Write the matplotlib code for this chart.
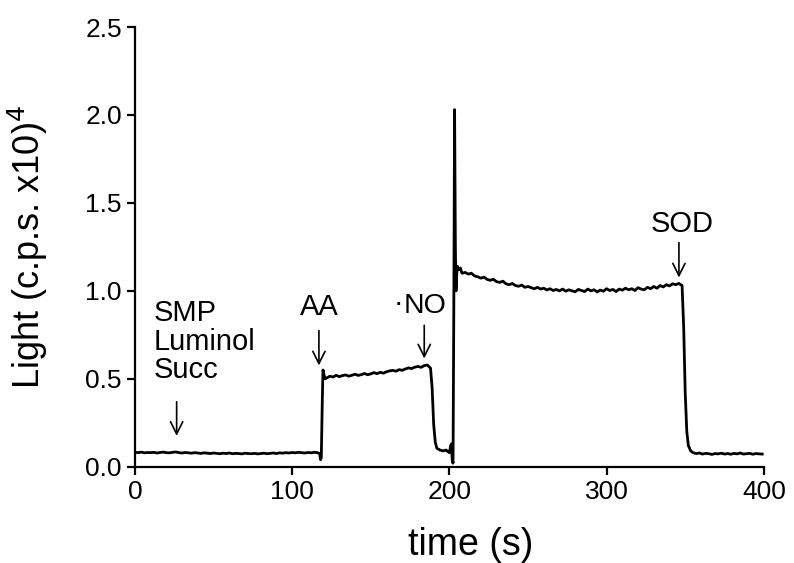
import matplotlib
matplotlib.use("Agg")
from matplotlib import pyplot as plt

plt.rcParams['font.family'] = ['Liberation Sans', 'DejaVu Sans']

# baseline before AA (every 2 s)
t_base = list(range(0, 118, 2))
y_base = [0.082, 0.080, 0.083, 0.079, 0.081, 0.080, 0.082, 0.078, 0.081, 0.083,
          0.080, 0.079, 0.082, 0.084, 0.080, 0.078, 0.081, 0.079, 0.077, 0.080,
          0.078, 0.076, 0.079, 0.077, 0.075, 0.078, 0.076, 0.074, 0.077, 0.075,
          0.078, 0.074, 0.076, 0.075, 0.073, 0.077, 0.075, 0.074, 0.076, 0.073,
          0.075, 0.077, 0.074, 0.076, 0.078, 0.075, 0.079, 0.077, 0.080, 0.078,
          0.081, 0.079, 0.082, 0.080, 0.078, 0.081, 0.079, 0.082, 0.080]

# AA addition and plateau
t_aa = [117.5, 118.0, 118.5, 119.2, 119.6, 120.3, 121.0, 122.0] + list(range(124, 188, 2))
y_aa = [0.075, 0.04, 0.05, 0.40, 0.55, 0.52, 0.50, 0.505,
        0.515, 0.510, 0.520, 0.512, 0.518, 0.522, 0.515, 0.520, 0.526, 0.519,
        0.524, 0.530, 0.523, 0.528, 0.535, 0.529, 0.537, 0.532, 0.540, 0.545,
        0.548, 0.543, 0.552, 0.548, 0.556, 0.562, 0.558, 0.566,
        0.570, 0.565, 0.575, 0.578]

# NO addition, drop and spike
t_no = [188.0, 189.0, 190.0, 191.0, 192.0, 194.0, 196.0, 198.0, 199.0, 200.0,
        200.8, 201.3, 201.8, 202.3, 202.8, 203.3, 203.8, 204.2, 204.6, 205.0,
        206.0, 207.0, 208.0]
y_no = [0.56, 0.45, 0.24, 0.14, 0.105, 0.095, 0.09, 0.095, 0.085, 0.08,
        0.12, 0.13, 0.04, 0.02, 0.90, 2.03, 1.25, 1.00, 1.08, 1.14,
        1.12, 1.13, 1.10]

# slow decay and plateau before SOD
t_pl = list(range(210, 348, 2))
y_pl = [1.105, 1.095, 1.100, 1.085, 1.080, 1.072, 1.078, 1.065, 1.060, 1.066,
        1.052, 1.048, 1.055, 1.040, 1.035, 1.042, 1.030, 1.026, 1.033, 1.020,
        1.025, 1.018, 1.012, 1.020, 1.010, 1.015, 1.005, 1.012, 1.002, 1.008,
        1.000, 1.010, 0.998, 1.006, 1.000, 0.995, 1.008, 1.002, 0.996, 1.010,
        1.000, 1.006, 0.994, 1.004, 0.998, 1.012, 1.002, 1.008, 0.996, 1.010,
        1.004, 1.015, 1.006, 1.012, 1.002, 1.018, 1.010, 1.006, 1.020, 1.012,
        1.025, 1.015, 1.030, 1.022, 1.035, 1.028, 1.040, 1.035, 1.042]

# SOD addition and final baseline
t_sod = [348.0, 349.0, 350.0, 351.0, 352.0, 353.5, 355.0] + list(range(357, 401, 2))
y_sod = [1.03, 0.80, 0.42, 0.20, 0.12, 0.09, 0.08,
         0.075, 0.078, 0.072, 0.076, 0.074, 0.070, 0.075, 0.073, 0.077, 0.072,
         0.075, 0.071, 0.076, 0.073, 0.078, 0.072, 0.074, 0.076, 0.071, 0.075,
         0.073, 0.072]

t = t_base + t_aa + t_no + t_pl + t_sod
light = y_base + y_aa + y_no + y_pl + y_sod

# arrows: (label, label x, label y, arrow x, arrow top, arrow bottom)
arrows = [
    ("AA", 117, 0.91, 117, 0.79, 0.56),
    ("SOD", 348, 1.38, 346, 1.29, 1.06),
    (None, 0, 0, 184, 0.82, 0.60),
    (None, 0, 0, 26.5, 0.385, 0.16),
]

fig = plt.figure(figsize=(7.94, 5.63), dpi=100)
ax = fig.add_axes([0.170, 0.171, 0.792, 0.781])
ax.plot(t, light, color='black', lw=2.0)

arrow_style = dict(arrowstyle='->', color='black', lw=1.2, mutation_scale=22)
for lab, lx, ly, ax_x, top, bot in arrows:
    ax.annotate('', xy=(ax_x, bot), xytext=(ax_x, top), arrowprops=arrow_style)
    if lab:
        ax.text(lx, ly, lab, ha='center', va='center', fontsize=21)

# nitric oxide label with radical dot
ax.text(184.8, 0.875, 'NO', ha='center', va='baseline', fontsize=20.5)
ax.text(167.8, 0.885, '\u00b7', ha='center', va='baseline', fontsize=20.5)

ax.text(12, 0.875, "SMP", ha='left', va='center', fontsize=21)
ax.text(12, 0.71, "Luminol", ha='left', va='center', fontsize=21)
ax.text(12, 0.55, "Succ", ha='left', va='center', fontsize=21)

ax.set_xlim(0, 400)
ax.set_ylim(0, 2.5)
ax.set_xticks([0, 100, 200, 300, 400])
ax.set_yticks([0, 0.5, 1.0, 1.5, 2.0, 2.5])
ax.set_yticklabels(['0.0', '0.5', '1.0', '1.5', '2.0', '2.5'])
for s in ['top', 'right']:
    ax.spines[s].set_visible(False)
for s in ['left', 'bottom']:
    ax.spines[s].set_linewidth(1.6)
ax.tick_params(direction='out', length=6, width=1.6, labelsize=19)
ax.set_xlabel('time (s)', fontsize=27)
ax.set_ylabel('Light (c.p.s. x10)$^4$', fontsize=26)
ax.xaxis.set_label_coords(0.534, -0.137)
ax.yaxis.set_label_coords(-0.135, 0.5)

fig.savefig('out.png', dpi=100)
